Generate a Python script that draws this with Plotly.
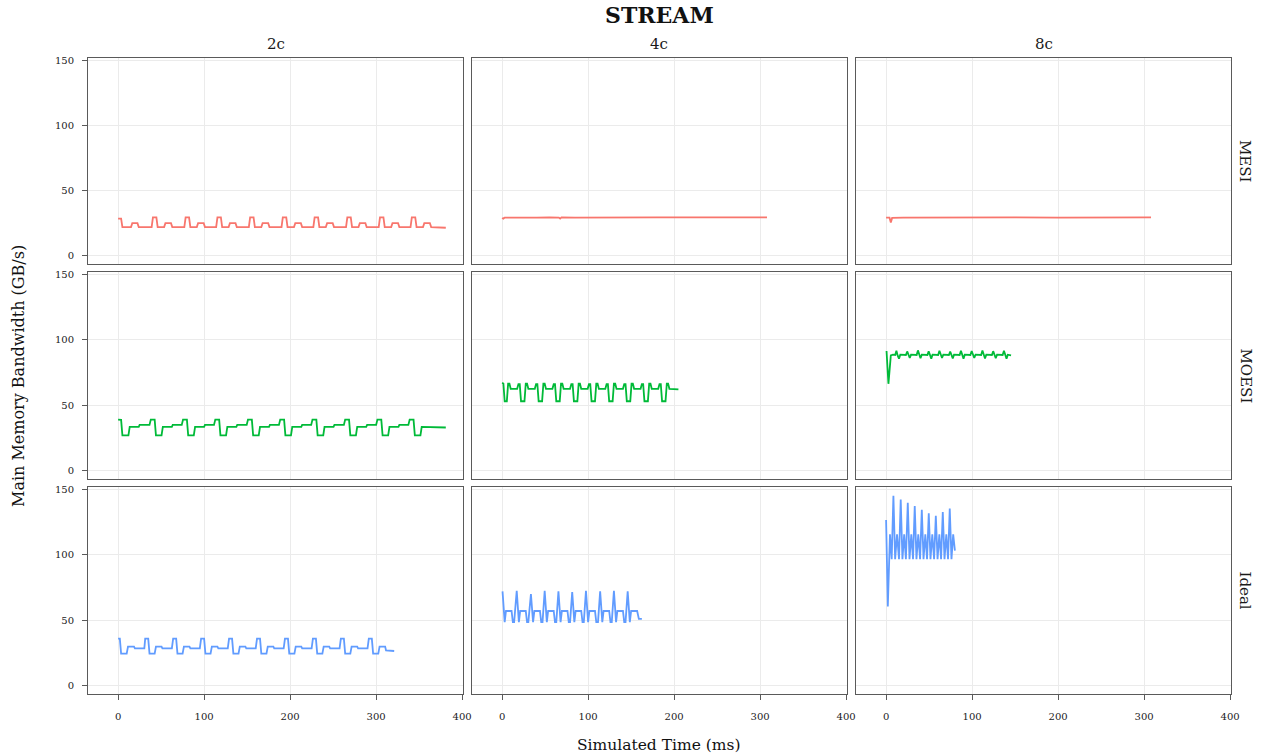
import plotly.graph_objects as go
from plotly.subplots import make_subplots

# ---------------- data ----------------
cores = ["2c", "4c", "8c"]
protocols = ["MESI", "MOESI", "Ideal"]
colors = {"MESI": "#F8766D", "MOESI": "#00BA38", "Ideal": "#619CFF"}

x_ticks = [0, 100, 200, 300, 400]
y_ticks = [0, 50, 100, 150]

# MESI 2c
mesi_2c_t = [0, 3.5, 5, 15, 16.5, 22.5, 24,
             39, 40.5, 44.5, 46, 53.5, 55, 61.5, 63,
             77, 78.5, 82.5, 84, 91.5, 93, 99.5, 101,
             114, 115.5, 119.5, 121, 128.5, 130, 136.5, 138,
             152, 153.5, 157.5, 159, 166.5, 168, 174.5, 176,
             190, 191.5, 195.5, 197, 204.5, 206, 212.5, 214,
             227, 228.5, 232.5, 234, 241.5, 243, 249.5, 251,
             265, 266.5, 270.5, 272, 279.5, 281, 287.5, 289,
             303, 304.5, 308.5, 310, 317.5, 319, 325.5, 327,
             340, 341.5, 345.5, 347, 354.5, 356, 362.5, 364,
             381]
mesi_2c_v = [28.5, 28.5, 22, 22, 25, 25, 22,
             22, 29.5, 29.5, 22, 22, 25, 25, 22,
             22, 29.5, 29.5, 22, 22, 25, 25, 22,
             22, 29.5, 29.5, 22, 22, 25, 25, 22,
             22, 29.5, 29.5, 22, 22, 25, 25, 22,
             22, 29.5, 29.5, 22, 22, 25, 25, 22,
             22, 29.5, 29.5, 22, 22, 25, 25, 22,
             22, 29.5, 29.5, 22, 22, 25, 25, 22,
             22, 29.5, 29.5, 22, 22, 25, 25, 22,
             22, 29.5, 29.5, 22, 22, 25, 25, 22,
             21.5]

# MESI 4c
mesi_4c_t = [0, 1.5, 3, 10, 25, 40, 55, 66, 67.5, 69, 85, 100, 120, 140, 160,
             180, 200, 220, 240, 260, 280, 300, 308]
mesi_4c_v = [29.0, 28.4, 29.3, 29.2, 29.4, 29.3, 29.4, 29.3, 28.5, 29.4, 29.3, 29.4,
             29.3, 29.4, 29.3, 29.4, 29.4, 29.3, 29.4, 29.3, 29.4, 29.4, 29.4]

# MESI 8c
mesi_8c_t = [0, 4, 5.5, 7, 20, 50, 100, 150, 200, 250, 300, 308]
mesi_8c_v = [29.2, 29.2, 25.5, 29.0, 29.3, 29.4, 29.3, 29.4, 29.3, 29.4, 29.4, 29.4]

# MOESI 2c
moesi_2c_t = [0, 3.5, 5, 12, 13.5, 24, 25, 36.5,
              38, 42.5, 44, 50.5, 52, 62.5, 63.5, 74,
              75.5, 80, 81.5, 88, 89.5, 100, 101, 111.5,
              113, 117.5, 119, 125.5, 127, 137.5, 138.5, 149.5,
              151, 155.5, 157, 163.5, 165, 175.5, 176.5, 187,
              188.5, 193, 194.5, 201, 202.5, 213, 214, 224.5,
              226, 230.5, 232, 238.5, 240, 250.5, 251.5, 262.5,
              264, 268.5, 270, 276.5, 278, 288.5, 289.5, 300,
              301.5, 306, 307.5, 314, 315.5, 326, 327, 337.5,
              339, 343.5, 345, 351.5, 353, 381]
moesi_2c_v = [39, 38.8, 27, 27, 33.5, 33.5, 35, 35,
              39, 39, 27, 27, 33.5, 33.5, 35, 35,
              39, 39, 27, 27, 33.5, 33.5, 35, 35,
              39, 39, 27, 27, 33.5, 33.5, 35, 35,
              39, 39, 27, 27, 33.5, 33.5, 35, 35,
              39, 39, 27, 27, 33.5, 33.5, 35, 35,
              39, 39, 27, 27, 33.5, 33.5, 35, 35,
              39, 39, 27, 27, 33.5, 33.5, 35, 35,
              39, 39, 27, 27, 33.5, 33.5, 35, 35,
              39, 39, 27, 27, 33.5, 33]

# MOESI 4c
moesi_4c_t = [0, 1.5, 3,
              5.5, 7, 8.5, 10, 17.5, 19, 20.5, 22,
              26, 27.5, 29, 30.5, 38, 39.5, 41, 42.5,
              46.5, 48, 49.5, 51, 58.5, 60, 61.5, 63,
              67, 68.5, 70, 71.5, 79, 80.5, 82, 83.5,
              87.5, 89, 90.5, 92, 99.5, 101, 102.5, 104,
              108, 109.5, 111, 112.5, 120, 121.5, 123, 124.5,
              128.5, 130, 131.5, 133, 140.5, 142, 143.5, 145,
              149, 150.5, 152, 153.5, 161, 162.5, 164, 165.5,
              169.5, 171, 172.5, 174, 181.5, 183, 184.5, 186,
              190, 191.5, 193, 194.5, 205]
moesi_4c_v = [67, 66.5, 53,
              53, 66.5, 66.5, 62.5, 62.5, 66, 66, 53,
              53, 66.5, 66.5, 62.5, 62.5, 66, 66, 53,
              53, 66.5, 66.5, 62.5, 62.5, 66, 66, 53,
              53, 66.5, 66.5, 62.5, 62.5, 66, 66, 53,
              53, 66.5, 66.5, 62.5, 62.5, 66, 66, 53,
              53, 66.5, 66.5, 62.5, 62.5, 66, 66, 53,
              53, 66.5, 66.5, 62.5, 62.5, 66, 66, 53,
              53, 66.5, 66.5, 62.5, 62.5, 66, 66, 53,
              53, 66.5, 66.5, 62.5, 62.5, 66, 66, 53,
              53, 66.5, 66.5, 62.5, 62]

# MOESI 8c
moesi_8c_t = [0.5, 2.7, 5.5, 8,
              10.5, 12, 13.5, 15, 16.5,
              23, 24.5, 26, 27.5, 29,
              35.5, 37, 38.5, 40, 41.5,
              48, 49.5, 51, 52.5, 54,
              60.5, 62, 63.5, 65, 66.5,
              73, 74.5, 76, 77.5, 79,
              85.5, 87, 88.5, 90, 91.5,
              98, 99.5, 101, 102.5, 104,
              110.5, 112, 113.5, 115, 116.5,
              123, 124.5, 126, 127.5, 129,
              135.5, 137, 138.5, 140, 141.5,
              145.3]
moesi_8c_v = [91.3, 66.3, 88, 88.5,
              88.3, 91.5, 87.8, 85.5, 88.5,
              88.3, 91.0, 87.8, 86.0, 88.5,
              88.3, 91.8, 87.8, 85.8, 88.5,
              88.3, 91.2, 87.8, 85.5, 88.5,
              88.3, 91.5, 87.8, 86.0, 88.5,
              88.3, 91.0, 87.8, 85.7, 88.5,
              88.3, 91.6, 87.8, 85.5, 88.5,
              88.3, 91.3, 87.8, 86.0, 88.5,
              88.3, 91.8, 87.8, 85.6, 88.5,
              88.3, 91.2, 87.8, 85.8, 88.5,
              88.3, 91.5, 87.8, 85.5, 88.5,
              88]

# Ideal 2c
ideal_2c_t = [0, 2, 3.5, 10, 11.5, 18.5, 19.5, 30.5,
              31.5, 35, 36.5, 42.5, 44, 50.5, 51.5, 62.5,
              64, 67.5, 69, 75, 76.5, 83, 84, 95,
              96.5, 100, 101.5, 107.5, 109, 115.5, 116.5, 127.5,
              129, 132.5, 134, 140, 141.5, 148, 149, 160,
              161.5, 165, 166.5, 172.5, 174, 180.5, 181.5, 192.5,
              194, 197.5, 199, 205, 206.5, 213, 214, 225,
              226.5, 230, 231.5, 237.5, 239, 245.5, 246.5, 257.5,
              259, 262.5, 264, 270, 271.5, 278, 279, 290,
              291.5, 295, 296.5, 302.5, 304, 310.5, 311.5, 321]
ideal_2c_v = [36, 36, 24.5, 24.5, 29.8, 29.8, 28.5, 28.5,
              36, 36, 24.5, 24.5, 29.8, 29.8, 28.5, 28.5,
              36, 36, 24.5, 24.5, 29.8, 29.8, 28.5, 28.5,
              36, 36, 24.5, 24.5, 29.8, 29.8, 28.5, 28.5,
              36, 36, 24.5, 24.5, 29.8, 29.8, 28.5, 28.5,
              36, 36, 24.5, 24.5, 29.8, 29.8, 28.5, 28.5,
              36, 36, 24.5, 24.5, 29.8, 29.8, 28.5, 28.5,
              36, 36, 24.5, 24.5, 29.8, 29.8, 28.5, 28.5,
              36, 36, 24.5, 24.5, 29.8, 29.8, 28.5, 28.5,
              36, 36, 24.5, 24.5, 29.8, 29.8, 27, 26.5]

# Ideal 4c
ideal_4c_t = [0.5, 3, 4.5, 11, 12.5, 14,
              17, 19.5, 21, 27.5, 29, 30.5,
              33.5, 36, 37.5, 44, 45.5, 47,
              49.5, 52, 53.5, 60, 61.5, 63,
              65.5, 68, 69.5, 76, 77.5, 79,
              81.5, 84, 85.5, 92, 93.5, 95,
              97.5, 100, 101.5, 108, 109.5, 111.5,
              114, 116.5, 118, 124.5, 126, 127.5,
              130, 132.5, 134, 140.5, 142, 143.5,
              146, 148.5, 150, 157, 159, 162.5]
ideal_4c_v = [72, 48.5, 57, 57, 48.5, 48.5,
              72.5, 48.5, 57, 57, 48.5, 48.5,
              70, 48.5, 57, 57, 48.5, 48.5,
              72.5, 48.5, 57, 57, 48.5, 48.5,
              72, 48.5, 57, 57, 48.5, 48.5,
              71.5, 48.5, 57, 57, 48.5, 48.5,
              72.5, 48.5, 57, 57, 48.5, 48.5,
              72, 48.5, 57, 57, 48.5, 48.5,
              72.5, 48.5, 57, 57, 48.5, 48.5,
              72, 48.5, 57, 57, 51, 51]

# Ideal 8c
ideal_8c_t = [0, 2, 4.5, 6.5, 8.5, 10.5, 12.7, 15, 17, 19, 21, 23,
              25.2, 27.2, 29.3, 31.3, 33.3, 35.3, 37.4, 39.5, 41.5, 43.5, 45.6, 47.6,
              49.6, 51.6, 53.7, 55.8, 57.8, 59.8, 61.9, 63.9, 65.9, 67.9, 70, 72,
              74, 76, 78, 80]
ideal_8c_v = [126.5, 60.5, 115.5, 96.5, 145, 96.5, 115.5, 96.5, 142, 96.5, 115.5, 96.5,
              139.5, 96.5, 115.5, 96.5, 137, 96.5, 115.5, 96.5, 134.3, 96.5, 115.5, 96.5,
              131.6, 96.5, 115.5, 96.5, 129.6, 96.5, 115.5, 96.5, 132.6, 96.5, 115.5, 96.5,
              135.2, 96.5, 115.5, 103]

series = {
    ("MESI", "2c"): (mesi_2c_t, mesi_2c_v),
    ("MESI", "4c"): (mesi_4c_t, mesi_4c_v),
    ("MESI", "8c"): (mesi_8c_t, mesi_8c_v),
    ("MOESI", "2c"): (moesi_2c_t, moesi_2c_v),
    ("MOESI", "4c"): (moesi_4c_t, moesi_4c_v),
    ("MOESI", "8c"): (moesi_8c_t, moesi_8c_v),
    ("Ideal", "2c"): (ideal_2c_t, ideal_2c_v),
    ("Ideal", "4c"): (ideal_4c_t, ideal_4c_v),
    ("Ideal", "8c"): (ideal_8c_t, ideal_8c_v),
}

# ---------------- layout geometry (pixels in a 1264x756 page) ----------------
W, H = 1264, 756
col_px = [(88, 463), (472, 847), (856, 1231)]
row_px = [(58, 264), (272, 479), (487, 694)]
FONT = "DejaVu Serif"

fig = make_subplots(rows=3, cols=3)

for r, prot in enumerate(protocols):
    for c, core in enumerate(cores):
        t, v = series[(prot, core)]
        fig.add_trace(go.Scatter(x=t, y=v, mode="lines",
                                 line=dict(color=colors[prot], width=1.8),
                                 showlegend=False, hoverinfo="skip"),
                      row=r + 1, col=c + 1)

axis_common = dict(showgrid=True, gridcolor="#ebebeb", gridwidth=1,
                   zeroline=False, showline=True, mirror=True,
                   linecolor="#5a5a5a", linewidth=1, automargin=False,
                   tickfont=dict(family=FONT, size=10, color="#222222"),
                   tickcolor="#5a5a5a", ticklen=5)

for r in range(3):
    for c in range(3):
        idx = r * 3 + c + 1
        xa = "xaxis" if idx == 1 else f"xaxis{idx}"
        ya = "yaxis" if idx == 1 else f"yaxis{idx}"
        x0, x1 = col_px[c]
        y0, y1 = row_px[r]
        fig.layout[xa].update(axis_common,
                              domain=[x0 / W, x1 / W],
                              range=[-35, 401],
                              tickvals=x_ticks,
                              ticklabelstandoff=8,
                              showticklabels=(r == 2),
                              ticks="outside" if r == 2 else "")
        fig.layout[ya].update(axis_common,
                              domain=[1 - y1 / H, 1 - y0 / H],
                              range=[-6.3, 151.6],
                              tickvals=y_ticks,
                              ticklabelstandoff=6,
                              showticklabels=(c == 0),
                              ticks="outside" if c == 0 else "")

annotations = []
annotations.append(dict(text="<b>STREAM</b>", x=659.5 / W, y=1 - 15 / H,
                        xref="paper", yref="paper", showarrow=False,
                        xanchor="center", yanchor="middle",
                        font=dict(family=FONT, size=22, color="#111111")))
for c, core in enumerate(cores):
    x0, x1 = col_px[c]
    annotations.append(dict(text=core, x=(x0 + x1) / 2 / W, y=1 - 44 / H,
                            xref="paper", yref="paper", showarrow=False,
                            xanchor="center", yanchor="middle",
                            font=dict(family=FONT, size=15, color="#1a1a1a")))
for r, prot in enumerate(protocols):
    y0, y1 = row_px[r]
    annotations.append(dict(text=prot, x=1245 / W, y=1 - (y0 + y1) / 2 / H,
                            xref="paper", yref="paper", showarrow=False,
                            xanchor="center", yanchor="middle", textangle=90,
                            font=dict(family=FONT, size=15, color="#1a1a1a")))
annotations.append(dict(text="Main Memory Bandwidth (GB/s)", x=18 / W, y=1 - 376 / H,
                        xref="paper", yref="paper", showarrow=False, textangle=-90,
                        xanchor="center", yanchor="middle",
                        font=dict(family=FONT, size=16, color="#111111")))
annotations.append(dict(text="Simulated Time (ms)", x=659.5 / W, y=1 - 745 / H,
                        xref="paper", yref="paper", showarrow=False,
                        xanchor="center", yanchor="middle",
                        font=dict(family=FONT, size=15.5, color="#111111")))

fig.update_layout(width=W, height=H,
                  margin=dict(l=0, r=0, t=0, b=0, autoexpand=False),
                  paper_bgcolor="white", plot_bgcolor="white",
                  annotations=annotations, font=dict(family=FONT))

fig.write_html("out.html")
